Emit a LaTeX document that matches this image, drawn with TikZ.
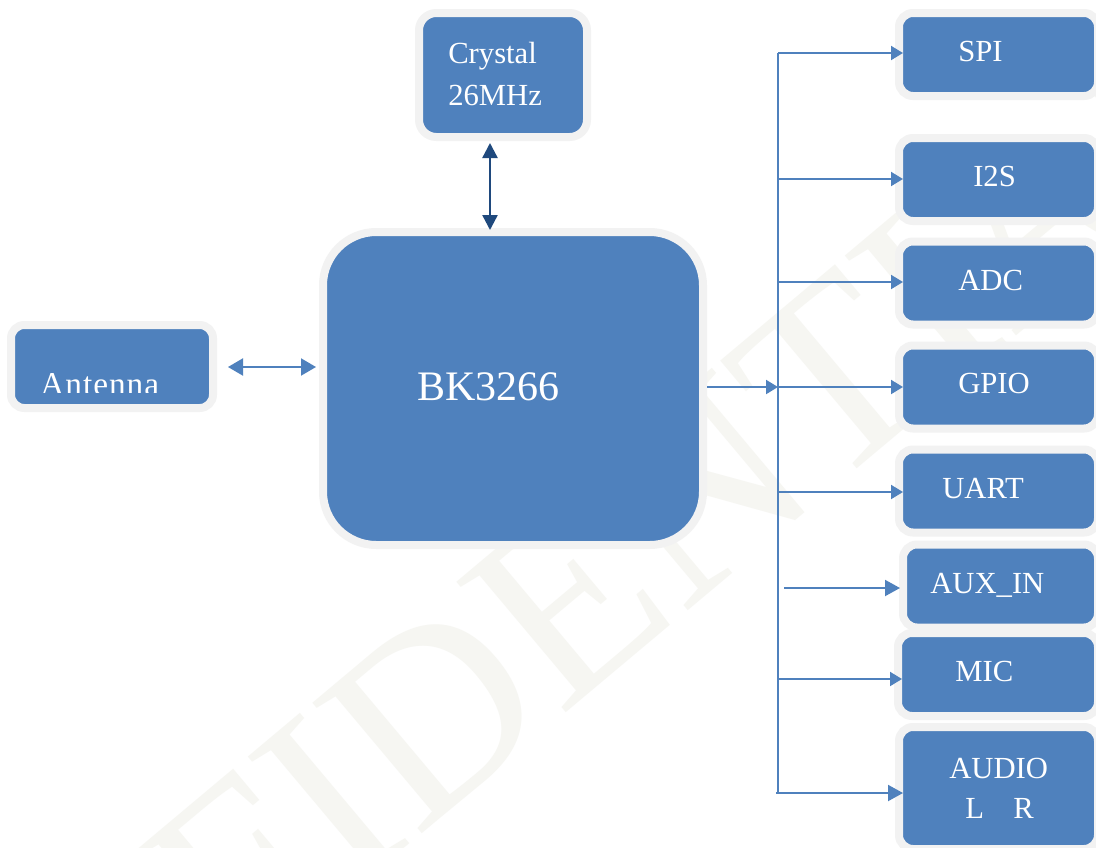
\documentclass[tikz,border=0pt]{standalone}
\usepackage{fontspec}
\setmainfont{Liberation Serif}
\newfontfamily\antfont[LetterSpace=3]{Liberation Serif}
\usetikzlibrary{arrows.meta}
\definecolor{boxblue}{RGB}{79,129,189}
\definecolor{boxrim}{RGB}{242,242,242}
\definecolor{darkarrow}{RGB}{31,73,125}
\definecolor{lineblue}{RGB}{79,129,189}
\definecolor{wmcol}{RGB}{246,246,242}
\begin{document}
\begin{tikzpicture}[x=0.75pt,y=-0.75pt,
  box/.style={draw=boxrim, fill=boxblue, line width=6pt, rounded corners=#1,
              outer sep=-3pt, inner sep=0pt},
  box/.default=10.5pt,
  rbox/.style={box=10.5pt, minimum width=149.25pt, minimum height=62.25pt},
  lbl/.style={text=white, font=\fontsize{23}{28}\selectfont, anchor=base west, inner sep=0pt},
  dkarr/.style={draw=darkarrow, line width=1.8pt,
     {Triangle[width=11.25pt,length=11.25pt]}-{Triangle[width=11.25pt,length=11.25pt]}},
  antarr/.style={draw=lineblue, line width=1.5pt,
     {Triangle[width=12.75pt,length=11.25pt]}-{Triangle[width=12.75pt,length=11.25pt]}},
  barr/.style={draw=lineblue, line width=1.5pt, -{Triangle[width=10.5pt,length=9pt]}},
  bigarr/.style={draw=lineblue, line width=1.5pt, -{Triangle[width=12pt,length=11.25pt]}},
  bline/.style={draw=lineblue, line width=1.8pt},
  wm/.style={text=wmcol, font=\fontsize{195}{195}\selectfont, inner sep=0pt}
]
\useasboundingbox (0,0) rectangle (1096,847);
\clip (0,0) rectangle (1096,847);
\fill[white] (0,0) rectangle (1096,847);

% watermark
\node[wm, rotate=40] (wmark) at (495,662) {CONFIDENTIAL};

% boxes
\node[box=13pt, minimum width=126pt, minimum height=93pt] (crystal) at (503,75) {};
\node[box=40pt, minimum width=285pt, minimum height=234.75pt] (bk) at (513,388.5) {};
\node[box=10pt, minimum width=151.5pt, minimum height=62.25pt] (ant) at (112,366.5) {};
\node[rbox] (spi) at (998.5,54.5) {};
\node[rbox] (i2s) at (998.5,179.5) {};
\node[rbox] (adc) at (998.5,283) {};
\node[rbox] (gpio) at (998.5,387) {};
\node[rbox] (uart) at (998.5,491) {};
\node[rbox, minimum width=146.25pt] (aux) at (1000.5,586) {};
\node[rbox, minimum width=150pt] (mic) at (998,674.5) {};
\node[rbox, minimum height=91.5pt] (audio) at (998.5,788) {};

% labels
\node[lbl] (crystalt1) at (448,63) {Crystal};
\node[lbl] (crystalt2) at (448,105) {26MHz};
\node[lbl, font=\fontsize{31.5}{36}\selectfont] (bkt) at (417,400) {BK3266};
\begin{scope}
  \clip (15,329) rectangle (209,392.5);
  \node[lbl, font=\antfont\fontsize{25}{30}\selectfont] (antt) at (40,395) {Antenna};
\end{scope}
\node[lbl] (spit) at (958,61) {SPI};
\node[lbl] (i2st) at (973,186) {I2S};
\node[lbl] (adct) at (958,290) {ADC};
\node[lbl] (gpiot) at (958,393) {GPIO};
\node[lbl] (uartt) at (942,498) {UART};
\node[lbl] (auxt) at (930,593) {AUX\_IN};
\node[lbl] (mict) at (955,681) {MIC};
\node[lbl] (audiot1) at (949,778) {AUDIO};
\node[lbl] (audiot2) at (965,818) {L\hspace{22pt}R};

% helper coordinates
\coordinate (cx) at (490,0);
\coordinate (ay) at (0,367);
\coordinate (btop) at (778,53);
\coordinate (bbot) at (778,792);
\coordinate (b1) at (778,53);
\coordinate (b2) at (778,179);
\coordinate (b3) at (778,282);
\coordinate (b4) at (778,387);
\coordinate (b5) at (778,492);
\coordinate (b6) at (784,588);
\coordinate (b7) at (778,679);
\coordinate (b8) at (776,793);

% connectors
\draw[dkarr, shorten <=7.5pt, shorten >=4.5pt] (crystal.south -| cx) -- (bk.north -| cx);
\draw[antarr, shorten <=14.25pt, shorten >=8.25pt] (ant.east |- ay) -- (bk.west |- ay);
\draw[bline] (btop) -- (bbot);
\draw[barr, shorten <=6pt] (bk.east |- b4) -- (b4);
\draw[barr] (b1) -- (b1 -| spi.west);
\draw[barr] (b2) -- (b2 -| i2s.west);
\draw[barr] (b3) -- (b3 -| adc.west);
\draw[barr] (b4) -- (b4 -| gpio.west);
\draw[barr] (b5) -- (b5 -| uart.west);
\draw[bigarr, shorten >=5.25pt] (b6) -- (b6 -| aux.west);
\draw[barr] (b7) -- (b7 -| mic.west);
\draw[bigarr] (b8) -- (b8 -| audio.west);
\end{tikzpicture}
\end{document}
